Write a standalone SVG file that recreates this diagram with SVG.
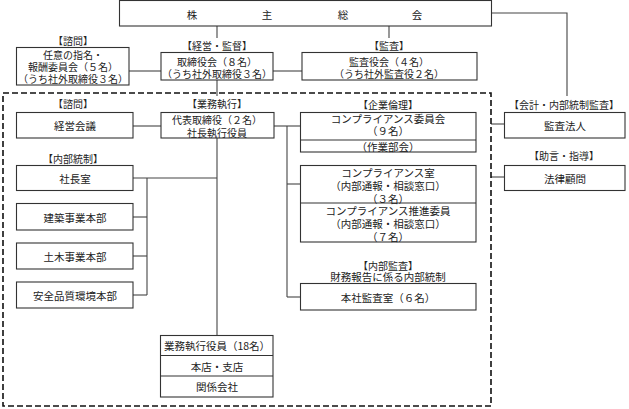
<svg xmlns="http://www.w3.org/2000/svg" width="629" height="409" viewBox="0 0 629 409">
<style>
text{font-family:"Noto Sans CJK JP","Noto Sans CJK SC",sans-serif;font-size:10.5px;fill:#222;text-anchor:middle;dominant-baseline:central}
.lb{font-size:10px}
.sm{font-size:10px}
rect.b{fill:#fff;stroke:#333;stroke-width:1.1}
.c line,.c polyline{stroke:#444;stroke-width:1.1;fill:none}
.dv{stroke:#333;stroke-width:1.1}
</style>
<rect x="0" y="0" width="629" height="409" fill="#fff"/>
<g class="c" id="connectors">
<polyline points="491,13 567,13 567,96"/>
<line x1="217" y1="26" x2="217" y2="38"/>
<line x1="389" y1="26" x2="389" y2="38"/>
<line x1="129" y1="71" x2="161" y2="71"/>
<line x1="273" y1="71" x2="302" y2="71"/>
<line x1="217" y1="80" x2="217" y2="96"/>
<line x1="133" y1="126" x2="161" y2="126"/>
<line x1="274" y1="126" x2="300" y2="126"/>
<line x1="287" y1="126" x2="287" y2="297"/>
<line x1="287" y1="184" x2="300" y2="184"/>
<line x1="287" y1="297" x2="300" y2="297"/>
<line x1="217" y1="138" x2="217" y2="335"/>
<line x1="133" y1="178" x2="217" y2="178"/>
<line x1="147" y1="178" x2="147" y2="295"/>
<line x1="133" y1="217" x2="147" y2="217"/>
<line x1="133" y1="256" x2="147" y2="256"/>
<line x1="133" y1="295" x2="147" y2="295"/>
<line x1="491" y1="124" x2="504" y2="124"/>
<line x1="491" y1="177" x2="504" y2="177"/>
</g>
<rect id="exec-area" x="3" y="93" width="488" height="313" fill="none" stroke="#111" stroke-width="1.6" stroke-dasharray="6,3"/>
<g id="shareholders">
<rect class="b" x="119.5" y="0.5" width="372" height="25.5"/>
<text x="192 267 343 417" y="14">株主総会</text>
</g>
<g id="nomination">
<text class="lb" x="73" y="40">【諮問】</text>
<rect class="b" x="16.5" y="47.5" width="112.5" height="37.5"/>
<text class="sm" x="73" y="54">任意の指名・</text>
<text class="sm" x="73" y="66">報酬委員会（５名）</text>
<text class="sm" x="73" y="78">（うち社外取締役３名）</text>
</g>
<g id="board">
<text class="lb" x="217" y="45">【経営・監督】</text>
<rect class="b" x="161" y="52.5" width="112" height="27.5"/>
<text class="sm" x="217" y="61">取締役会（８名）</text>
<text class="sm" x="217" y="73">（うち社外取締役３名）</text>
</g>
<g id="auditors">
<text class="lb" x="389" y="45">【監査】</text>
<rect class="b" x="302" y="52.5" width="175" height="27.5"/>
<text class="sm" x="389" y="61">監査役会（４名）</text>
<text class="sm" x="389" y="73">（うち社外監査役２名）</text>
</g>
<g id="mgmt-meeting">
<text class="lb" x="73" y="103">【諮問】</text>
<rect class="b" x="16.5" y="112.5" width="116.5" height="25.5"/>
<text x="75" y="125">経営会議</text>
</g>
<g id="president">
<text class="lb" x="217" y="103">【業務執行】</text>
<rect class="b" x="161" y="112.5" width="113" height="25.5"/>
<text class="sm" x="217" y="119">代表取締役（２名）</text>
<text class="sm" x="217" y="132">社長執行役員</text>
</g>
<g id="compliance-committee">
<text class="lb" x="388" y="104">【企業倫理】</text>
<rect class="b" x="300.5" y="112.5" width="175.5" height="39.5"/>
<line class="dv" x1="300.5" y1="140" x2="476" y2="140"/>
<text x="388" y="118">コンプライアンス委員会</text>
<text x="388" y="130">（９名）</text>
<text x="388" y="146">（作業部会）</text>
</g>
<g id="compliance-office">
<rect class="b" x="300.5" y="165.5" width="175.5" height="76.5"/>
<line class="dv" x1="300.5" y1="203" x2="476" y2="203"/>
<text x="388" y="172">コンプライアンス室</text>
<text x="388" y="185">（内部通報・相談窓口）</text>
<text x="388" y="198">（３名）</text>
<text x="388" y="210">コンプライアンス推進委員</text>
<text x="388" y="223">（内部通報・相談窓口）</text>
<text x="388" y="236">（７名）</text>
</g>
<g id="internal-audit">
<text class="lb" x="388" y="265">【内部監査】</text>
<text x="388" y="276">財務報告に係る内部統制</text>
<rect class="b" x="300.5" y="283.5" width="175.5" height="26.5"/>
<text x="388" y="297">本社監査室（６名）</text>
</g>
<g id="president-office">
<text class="lb" x="73" y="158">【内部統制】</text>
<rect class="b" x="16.5" y="165.5" width="116.5" height="25"/>
<text x="75" y="178">社長室</text>
</g>
<g id="architecture">
<rect class="b" x="16.5" y="203.5" width="116.5" height="26.5"/>
<text x="75" y="217">建築事業本部</text>
</g>
<g id="civil">
<rect class="b" x="16.5" y="243" width="116.5" height="26"/>
<text x="75" y="256">土木事業本部</text>
</g>
<g id="safety">
<rect class="b" x="16.5" y="282" width="116.5" height="26"/>
<text x="75" y="295">安全品質環境本部</text>
</g>
<g id="officers">
<rect class="b" x="160.5" y="335.5" width="112.5" height="61.5"/>
<line class="dv" x1="160.5" y1="355.5" x2="273" y2="355.5"/>
<line class="dv" x1="160.5" y1="376" x2="273" y2="376"/>
<text x="217" y="345">業務執行役員（18名）</text>
<text x="217" y="366">本店・支店</text>
<text x="217" y="386">関係会社</text>
</g>
<g id="audit-firm">
<text class="lb" x="564" y="104">【会計・内部統制監査】</text>
<rect class="b" x="504.5" y="112.5" width="120.5" height="25.5"/>
<text x="565" y="125">監査法人</text>
</g>
<g id="legal">
<text class="lb" x="564" y="155">【助言・指導】</text>
<rect class="b" x="504.5" y="165.5" width="120.5" height="25"/>
<text x="565" y="178">法律顧問</text>
</g>
</svg>
